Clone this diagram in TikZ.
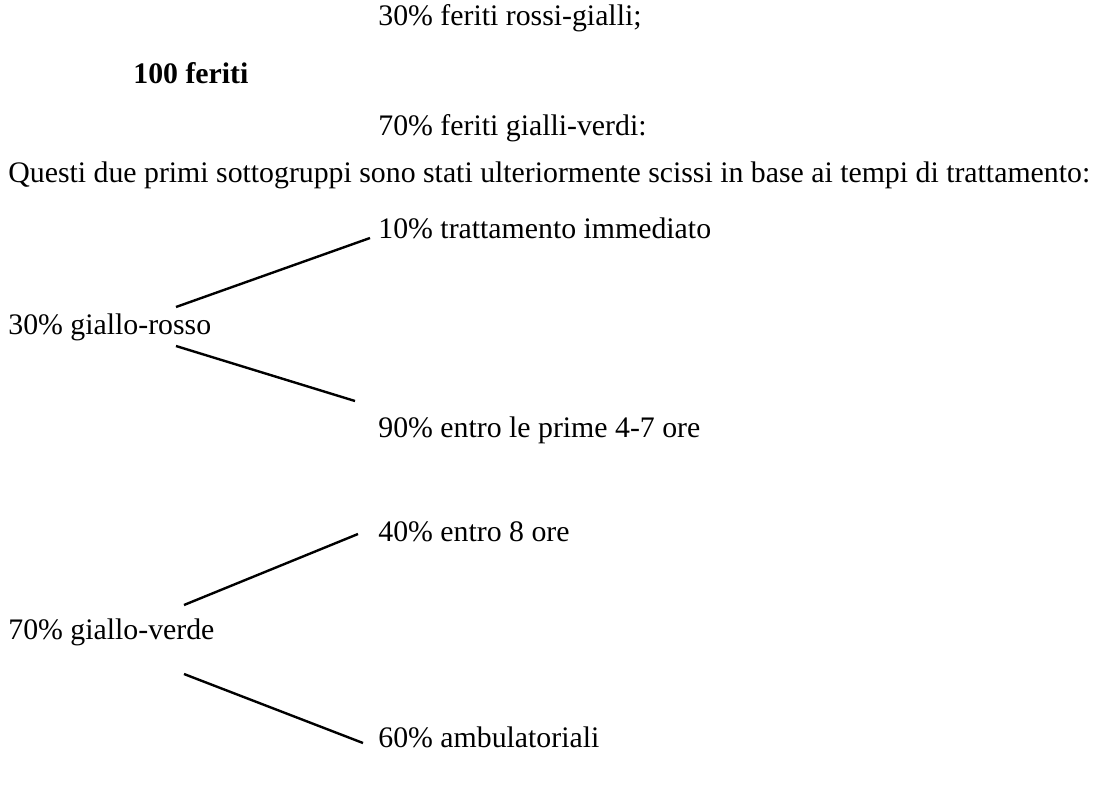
\documentclass[tikz,border=0pt]{standalone}
\usepackage{fontspec}
\setmainfont{Liberation Serif}
\begin{document}
\begin{tikzpicture}
		% split of the wounded into colour groups and treatment times
		[x=0.5pt,y=-0.5pt,txt/.style={anchor=west,inner sep=0pt,font=\fontsize{14.9}{18}\selectfont},link/.style={line width=1.2pt}]
		\useasboundingbox (0,0) rectangle (1097,798);
		\node[txt] (rg) at (378,18) {30\% feriti rossi-gialli;};
		\node[txt,font=\fontsize{14.9}{18}\selectfont\bfseries] (tot) at (133,73) {100 feriti};
		\node[txt] (gv) at (378,128) {70\% feriti gialli-verdi:};
		\node[txt] (note) at (8,175) {Questi due primi sottogruppi sono stati ulteriormente scissi in base ai tempi di trattamento:};

		\node[txt] (gr1) at (378,228) {10\% trattamento immediato};
		\node[txt] (gr) at (8,327) {30\% giallo-rosso};
		\node[txt] (gr2) at (378,430) {90\% entro le prime 4-7 ore};

		\node[txt] (gve1) at (378,532) {40\% entro 8 ore};
		\node[txt] (gve) at (8,632) {70\% giallo-verde};
		\node[txt] (gve2) at (378,737) {60\% ambulatoriali};

		\coordinate (gr-a) at (176,307);
		\coordinate (gr-b) at (176,346);
		\coordinate (gr1-a) at (370,238);
		\coordinate (gr2-a) at (355,401);
		\coordinate (gve-a) at (184,605);
		\coordinate (gve-b) at (184,674);
		\coordinate (gve1-a) at (358,534);
		\coordinate (gve2-a) at (363,743);

		\draw[link] (gr-a) -- (gr1-a);
		\draw[link] (gr-b) -- (gr2-a);
		\draw[link] (gve-a) -- (gve1-a);
		\draw[link] (gve-b) -- (gve2-a);
	\end{tikzpicture}
\end{document}
